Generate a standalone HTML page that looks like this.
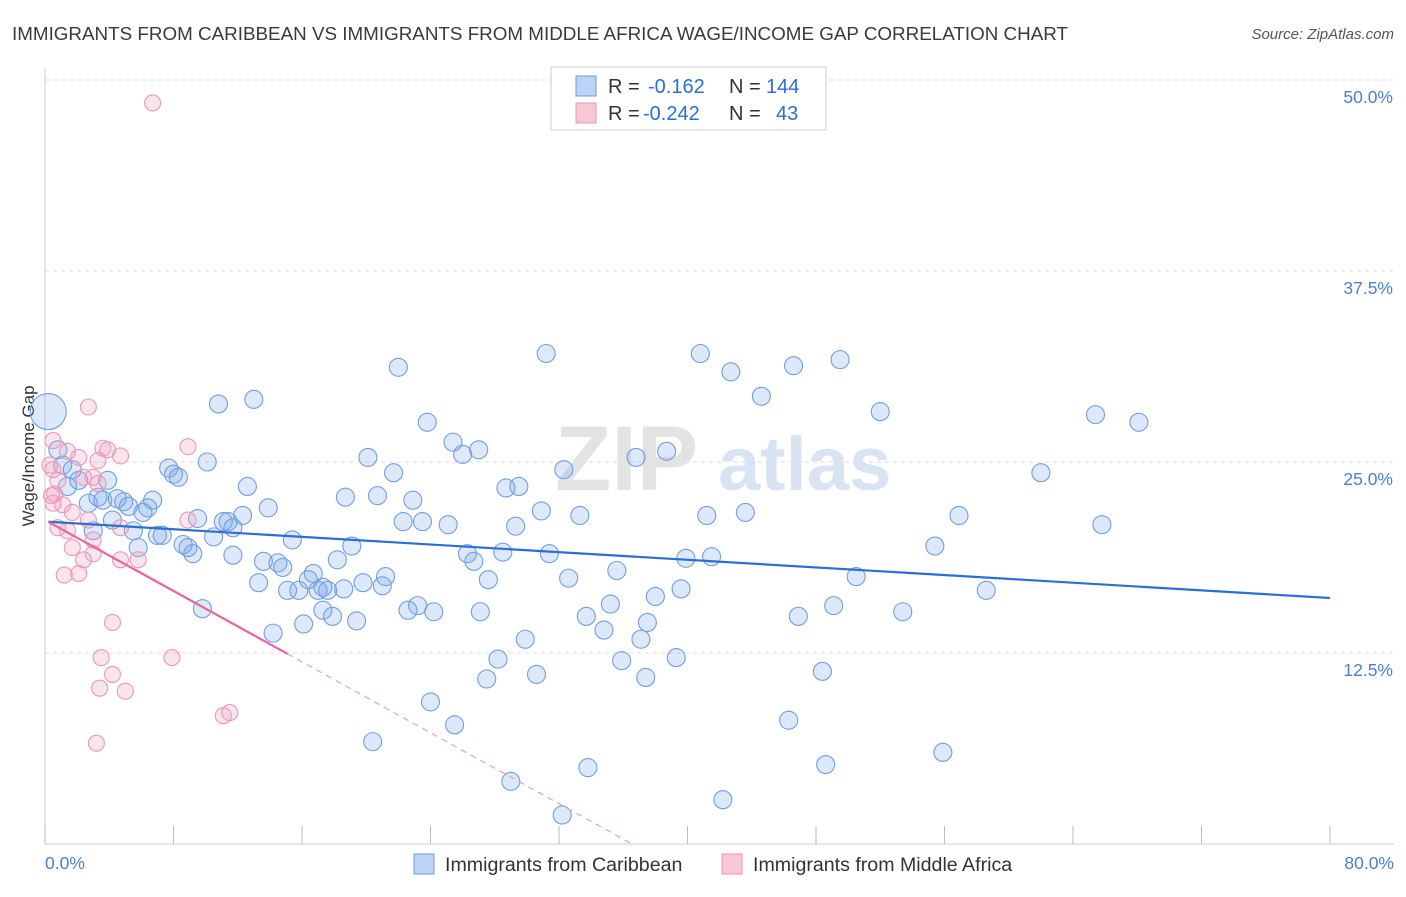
<!DOCTYPE html>
<html><head><meta charset="utf-8"><style>
body{margin:0;background:#fff;font-family:"Liberation Sans",sans-serif;}
svg text{font-family:"Liberation Sans",sans-serif;}
</style></head><body>
<svg id="chart" width="1406" height="892" viewBox="0 0 1406 892" xmlns="http://www.w3.org/2000/svg">
<text x="12" y="40" font-size="18.5" fill="#3a3a3a" textLength="1056" lengthAdjust="spacingAndGlyphs">IMMIGRANTS FROM CARIBBEAN VS IMMIGRANTS FROM MIDDLE AFRICA WAGE/INCOME GAP CORRELATION CHART</text>
<text x="1394" y="39" font-size="15" fill="#555" font-style="italic" text-anchor="end">Source: ZipAtlas.com</text>
<g id="grid"></g>
<g><text x="555" y="490" font-size="92" fill="#e3e3e3" font-family="Liberation Serif" font-weight="bold">ZIP</text><text x="718" y="490" font-size="76" fill="#d8e4f3" font-weight="bold">atlas</text></g>
<line x1="45" y1="844" x2="1394" y2="844" stroke="#ccc"/>
<line x1="45" y1="68" x2="45" y2="844" stroke="#ccc"/>
<g id="xticks"></g>
<g id="ylabels"></g>
<text transform="translate(34,456) rotate(-90)" font-size="17" fill="#333" text-anchor="middle">Wage/Income Gap</text>
<text x="45" y="869" font-size="17.5" fill="#4a7fd4">0.0%</text>
<text x="1394" y="869" font-size="17.5" fill="#4a7fd4" text-anchor="end">80.0%</text>
<g id="pts-blue"></g>
<g id="pts-pink"></g>
<g id="trends"></g>
<g>
<rect x="551" y="67" width="275" height="63" fill="#fff" stroke="#ccc"/>
<rect x="576" y="76" width="20" height="20" fill="#bcd3f3" stroke="#6a9be0"/>
<rect x="576" y="103" width="20" height="20" fill="#f8c7d6" stroke="#ea93b1"/>
<text y="93" font-size="20" fill="#333"><tspan x="608">R =</tspan><tspan x="648" fill="#2a6fd6">-0.162</tspan><tspan x="729">N =</tspan><tspan x="766" fill="#2a6fd6">144</tspan></text>
<text y="120" font-size="20" fill="#333"><tspan x="608">R =</tspan><tspan x="643" fill="#2a6fd6">-0.242</tspan><tspan x="729">N =</tspan><tspan x="776" fill="#2a6fd6">43</tspan></text>
</g>
<g>
<rect x="414" y="854" width="20" height="20" fill="#bcd3f3" stroke="#6a9be0"/>
<text x="445" y="871" font-size="19.6" fill="#333">Immigrants from Caribbean</text>
<rect x="722" y="854" width="20" height="20" fill="#f8c7d6" stroke="#ea93b1"/>
<text x="753" y="871" font-size="19.6" fill="#333">Immigrants from Middle Africa</text>
</g>
</svg>
<script>
const yTicks=[12.5,25,37.5,50];
const yTickLabels=["12.5%","25.0%","37.5%","50.0%"];
const xTicks=[0,8,16,24,32,40,48,56,64,72,80];
const blueX=[0.2,0.8,1.1,1.7,1.4,2.1,3.9,2.7,3.3,3.6,4.5,4.9,5.2,6.4,6.7,6.1,4.2,3.0,5.5,5.8,7.0,7.3,7.7,8.0,8.3,10.1,10.8,13.0,9.5,11.1,11.4,12.3,11.7,10.5,8.6,8.9,9.2,12.6,13.9,11.7,13.6,14.5,14.8,13.3,15.4,15.1,15.8,16.4,16.7,17.0,17.3,17.6,17.9,17.3,18.6,18.2,19.1,19.8,21.0,21.2,16.1,14.2,9.8,19.4,22.0,20.1,21.7,18.7,20.7,22.9,22.3,23.5,23.8,25.1,25.4,26.0,27.0,22.6,23.2,24.2,26.3,26.7,27.6,27.1,28.2,27.5,29.9,30.6,28.5,29.3,28.7,29.5,30.9,31.2,32.3,31.4,32.6,33.3,33.7,33.8,35.2,34.8,35.6,35.9,37.1,37.4,37.5,38.0,38.7,39.3,39.6,39.9,40.8,41.2,41.5,36.8,42.7,43.6,44.6,46.3,46.6,46.9,48.4,48.6,49.1,49.5,50.5,52.0,53.4,55.4,55.9,56.9,58.6,62.0,65.4,65.8,68.1,29.0,32.2,42.2,24.0,25.5,20.4];
const blueY=[28.3,25.8,24.8,24.5,23.4,23.8,23.8,22.3,22.7,22.5,22.6,22.4,22.1,22.0,22.5,21.7,21.2,20.5,20.5,19.4,20.2,20.2,24.6,24.2,24.0,25.0,28.8,29.1,21.3,21.1,21.1,21.5,20.7,20.1,19.6,19.4,19.0,23.4,22.0,18.9,18.5,18.4,18.1,17.1,19.9,16.6,16.6,17.3,17.7,16.6,16.8,16.6,14.9,15.3,16.7,18.6,19.5,17.1,16.9,17.5,14.4,13.8,15.4,14.6,31.2,25.3,24.3,22.7,22.8,22.5,21.1,21.1,27.6,20.9,26.3,25.5,25.8,15.3,15.6,15.2,19.0,18.5,17.3,15.2,12.1,10.8,13.4,11.1,19.1,20.8,23.3,23.4,21.8,32.1,24.5,19.0,17.4,21.5,14.9,5.0,15.7,14.0,17.9,12.0,13.4,10.9,14.5,16.2,25.7,12.2,16.7,18.7,32.1,21.5,18.8,25.3,30.9,21.7,29.3,8.1,31.3,14.9,11.3,5.2,15.6,31.7,17.5,28.3,15.2,19.5,6.0,21.5,16.6,24.3,28.1,20.9,27.6,4.1,1.9,2.9,9.3,7.8,6.7];
const pinkX=[6.7,2.7,0.5,1.4,2.1,3.3,3.6,3.9,4.7,0.5,0.8,2.4,3.0,3.3,0.6,0.5,1.1,1.7,0.8,1.4,2.7,4.7,8.9,3.0,1.7,3.0,2.4,2.1,1.2,4.7,5.8,4.2,3.5,7.9,4.2,3.4,5.0,11.1,11.5,3.2,8.9,0.3,0.4];
const pinkY=[48.5,28.6,26.4,25.7,25.3,25.1,25.9,25.8,25.4,24.5,23.8,24.0,24.0,23.6,22.9,22.3,22.2,21.7,20.7,20.5,21.2,20.7,21.2,19.9,19.4,19.0,18.6,17.7,17.6,18.6,18.6,14.5,12.2,12.2,11.1,10.2,10.0,8.4,8.6,6.6,26.0,24.8,22.8];
const blueTrend=[21.1,16.1];
const pinkTrend=[21.2,-0.58];
const pinkSolidEnd=15.1;

const sx=v=>45+v/80*1285;
const sy=v=>844-v*15.28;
const NS="http://www.w3.org/2000/svg";
function mk(tag,attrs,parent){const e=document.createElementNS(NS,tag);for(const k in attrs)e.setAttribute(k,attrs[k]);parent.appendChild(e);return e;}
const grid=document.getElementById('grid');
yTicks.forEach((t,i)=>{
  const l=mk('line',{x1:45,x2:1394,y1:sy(t),y2:sy(t),stroke:'#ddd','stroke-dasharray':'4,4'},grid);
  
  
  const tx=mk('text',{x:1393,y:sy(t)+23,'font-size':17.5,fill:'#4a7fd4','text-anchor':'end'},document.getElementById('ylabels'));
  tx.textContent=yTickLabels[i];
  
  
});
{const l=mk('line',{x1:45,x2:1394,y1:80,y2:80,stroke:'#ddd','stroke-dasharray':'4,4'},grid);

}
xTicks.forEach(t=>{
  const l=mk('line',{x1:sx(t),x2:sx(t),y1:826,y2:844,stroke:'#bbb'},document.getElementById('xticks'));
  
  
});
const gb=document.getElementById('pts-blue');
blueX.forEach((x,i)=>{
  const c=mk('circle',{cx:sx(x),cy:sy(blueY[i]),r:i===0?18:9,fill:'rgba(120,165,235,0.25)',stroke:'#6f9fe2','stroke-width':1.1},gb);
  
  
});
const gp=document.getElementById('pts-pink');
pinkX.forEach((x,i)=>{
  const c=mk('circle',{cx:sx(x),cy:sy(pinkY[i]),r:8,fill:'rgba(242,160,190,0.28)',stroke:'#ec98b5','stroke-width':1.1},gp);
  
  
});
const tr=document.getElementById('trends');
{const l=mk('line',{x1:sx(0.2),y1:sy(blueTrend[0]+(blueTrend[1]-blueTrend[0])*0.2/80),x2:sx(80),y2:sy(blueTrend[1]),stroke:'#2a6fd6','stroke-width':2.2},tr);

}
const pf=x=>pinkTrend[0]+pinkTrend[1]*x;
const x0=-pinkTrend[0]/pinkTrend[1];
{const l=mk('line',{x1:sx(0.2),y1:sy(pf(0.2)),x2:sx(pinkSolidEnd),y2:sy(pf(pinkSolidEnd)),stroke:'#e8679a','stroke-width':2.2},tr);

}
{const l=mk('line',{x1:sx(pinkSolidEnd),y1:sy(pf(pinkSolidEnd)),x2:sx(x0),y2:sy(0),stroke:'#e8a0bb','stroke-width':1.2,'stroke-dasharray':'6,5'},tr);

}
</script>
</body></html>
